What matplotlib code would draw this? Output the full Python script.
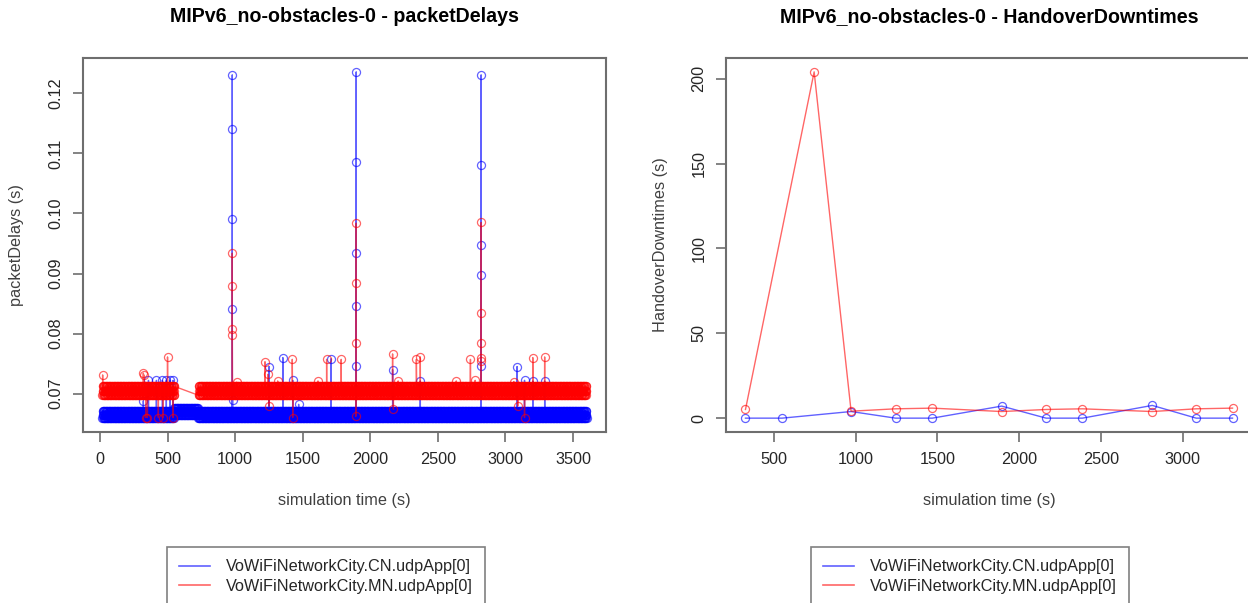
import numpy as np
import matplotlib
matplotlib.use("Agg")
import matplotlib.pyplot as plt
from matplotlib.lines import Line2D

plt.rcParams['font.family'] = ['Liberation Sans', 'DejaVu Sans']

W, H = 1248, 603

series_labels = ["VoWiFiNetworkCity.CN.udpApp[0]", "VoWiFiNetworkCity.MN.udpApp[0]"]
series_colors = ["#0000ff", "#ff0000"]
series_alpha = [0.62, 0.6]

# ---- packetDelays: bulk traffic bands (start s, end s, lowest / highest delay s)
cn_band_start = [18, 547, 725]
cn_band_end = [547, 725, 3600]
cn_band_low = [0.0659, 0.0664, 0.0659]
cn_band_high = [0.0671, 0.0676, 0.0671]

mn_band_start = [18, 730]
mn_band_end = [550, 3600]
mn_band_low = [0.0697, 0.0697]
mn_band_high = [0.0712, 0.0712]

packet_step = 1.5  # seconds between plotted packets inside a band

# ---- packetDelays: individual packets that stand out from the bands
cn_out_t = [321, 359, 418, 462, 491, 520, 541,
            979.0, 979.1, 979.2, 979.3, 981,
            1251, 1353, 1426, 1470, 1709,
            1896.0, 1896.1, 1896.2, 1896.3, 1896.4,
            2165, 2370,
            2820.0, 2820.1, 2820.2, 2820.3, 2820.4,
            3086, 3141, 3202, 3290]
cn_out_d = [0.0688, 0.0722, 0.0722, 0.0722, 0.0722, 0.0722, 0.0722,
            0.1231, 0.1140, 0.0991, 0.0841, 0.0689,
            0.0745, 0.0760, 0.0722, 0.0682, 0.0758,
            0.1236, 0.1085, 0.0935, 0.0846, 0.0746,
            0.0740, 0.0721,
            0.1231, 0.1080, 0.0948, 0.0897, 0.0746,
            0.0745, 0.0722, 0.0721, 0.0721]

mn_out_t = [20, 321, 326, 339, 351, 432, 468, 500, 541,
            979.0, 979.1, 979.2, 979.3, 1011,
            1221, 1242, 1251, 1315, 1423, 1426, 1613, 1677, 1785,
            1893, 1896.0, 1896.1, 1896.2,
            2165, 2171, 2206, 2341, 2370, 2636, 2741, 2776,
            2820.0, 2820.1, 2820.2, 2820.3, 2820.4,
            3062, 3091, 3141, 3202, 3290]
mn_out_d = [0.0731, 0.0734, 0.0731, 0.0660, 0.0660, 0.0660, 0.0660, 0.0761, 0.0660,
            0.0934, 0.0879, 0.0807, 0.0798, 0.0719,
            0.0753, 0.0732, 0.0679, 0.0721, 0.0757, 0.0660, 0.0721, 0.0757, 0.0757,
            0.0662, 0.0984, 0.0884, 0.0784,
            0.0766, 0.0674, 0.0721, 0.0757, 0.0761, 0.0721, 0.0757, 0.0722,
            0.0985, 0.0835, 0.0784, 0.0760, 0.0755,
            0.0720, 0.0679, 0.0660, 0.0760, 0.0761]

# ---- HandoverDowntimes
ho_cn_t = [326, 550, 972, 1244, 1469, 1893, 2165, 2387, 2814, 3083, 3305]
ho_cn_d = [0, 0, 3.9, 0, 0, 7.1, 0, 0, 7.5, 0, 0]
ho_mn_t = [326, 746, 972, 1244, 1469, 1893, 2165, 2387, 2814, 3083, 3305]
ho_mn_d = [5.1, 204, 4.1, 5.5, 5.9, 3.9, 5.1, 5.5, 3.9, 5.5, 5.9]

x_ticks_delay = [0, 500, 1000, 1500, 2000, 2500, 3000, 3500]
y_ticks_delay = [0.07, 0.08, 0.09, 0.10, 0.11, 0.12]
x_ticks_ho = [500, 1000, 1500, 2000, 2500, 3000]
y_ticks_ho = [0, 50, 100, 150, 200]


def packet_series(starts, ends, lows, highs, out_t, out_d):
    """Merge banded bulk packets with the outlying packets, ordered by time."""
    times, delays = [], []
    for s, e, lo, hi in zip(starts, ends, lows, highs):
        t = np.arange(s, e + packet_step / 2, packet_step)
        levels = np.array([lo, hi, (lo + hi) / 2])
        d = levels[np.arange(t.size) % 3]
        times.append(t)
        delays.append(d)
    times.append(np.asarray(out_t, float))
    delays.append(np.asarray(out_d, float))
    t = np.concatenate(times)
    d = np.concatenate(delays)
    order = np.argsort(t, kind="stable")
    return t[order], d[order]


cn_t, cn_d = packet_series(cn_band_start, cn_band_end, cn_band_low, cn_band_high, cn_out_t, cn_out_d)
mn_t, mn_d = packet_series(mn_band_start, mn_band_end, mn_band_low, mn_band_high, mn_out_t, mn_out_d)

fig = plt.figure(figsize=(W / 100, H / 100), dpi=100)
ax1 = fig.add_axes([83 / W, 1 - 432 / H, (606 - 83) / W, (432 - 58) / H])
ax2 = fig.add_axes([726 / W, 1 - 432 / H, (1252 - 726) / W, (432 - 58) / H])

frame_col = "#6e6e6e"
tick_col = "#262626"
label_col = "#404040"
fs = 11.7

mk = dict(marker="o", mfc="none", ms=5.8, mew=0.9, lw=1.0)
ax1.plot(cn_t, cn_d, color=series_colors[0], alpha=series_alpha[0], **mk)
ax1.plot(mn_t, mn_d, color=series_colors[1], alpha=series_alpha[1], **mk)
ax2.plot(ho_cn_t, ho_cn_d, color=series_colors[0], alpha=series_alpha[0], **mk)
ax2.plot(ho_mn_t, ho_mn_d, color=series_colors[1], alpha=series_alpha[1], **mk)

for ax, xt, yt in ((ax1, x_ticks_delay, y_ticks_delay), (ax2, x_ticks_ho, y_ticks_ho)):
    ax.margins(0.04)
    ax.set_xticks(xt)
    ax.set_yticks(yt)
    for sp in ax.spines.values():
        sp.set_color(frame_col)
        sp.set_linewidth(1.5)
    ax.tick_params(axis="both", length=7.2, width=1.2, color=frame_col,
                   labelsize=fs, labelcolor=tick_col, pad=7)
    ax.set_xlabel("simulation time (s)", fontsize=fs, color=label_col)
    ax.xaxis.set_label_coords(0.5, (432 - 500) / 374)
    ax.xaxis.label.set_va("center")

ax1.set_yticklabels([f"{v:.2f}" for v in y_ticks_delay])
for ax in (ax1, ax2):
    for lab in ax.get_yticklabels():
        lab.set_rotation(90)
        lab.set_va("center")

ax1.set_ylabel("packetDelays (s)", fontsize=fs, color=label_col)
ax1.yaxis.set_label_coords((17 - 83) / 523, 0.5)
ax1.yaxis.label.set_va("center")
ax2.set_ylabel("HandoverDowntimes (s)", fontsize=fs, color=label_col)
ax2.yaxis.set_label_coords((660 - 726) / 526, 0.5)
ax2.yaxis.label.set_va("center")

fig.text(344.5 / W, 1 - 22 / H, "MIPv6_no-obstacles-0 - packetDelays",
         ha="center", va="baseline", fontsize=14.1, fontweight="bold", color="black")
fig.text(989 / W, 1 - 22 / H, "MIPv6_no-obstacles-0 - HandoverDowntimes",
         ha="center", va="baseline", fontsize=14.1, fontweight="bold", color="black")

handles = [Line2D([], [], color=c, alpha=a, lw=1.2) for c, a in zip(series_colors, series_alpha)]
for x0 in (167, 811):
    leg = fig.legend(handles, series_labels, loc="upper left",
                     bbox_to_anchor=(x0 / W, 1 - 547 / H), bbox_transform=fig.transFigure,
                     borderaxespad=0, frameon=True, fancybox=False, framealpha=1,
                     edgecolor="#808080", fontsize=fs, borderpad=0.75,
                     handlelength=1.9, handletextpad=1.0, labelspacing=0.3)
    leg.get_frame().set_linewidth(1.2)
    for t in leg.get_texts():
        t.set_color(tick_col)

fig.savefig("out.png", dpi=100)
